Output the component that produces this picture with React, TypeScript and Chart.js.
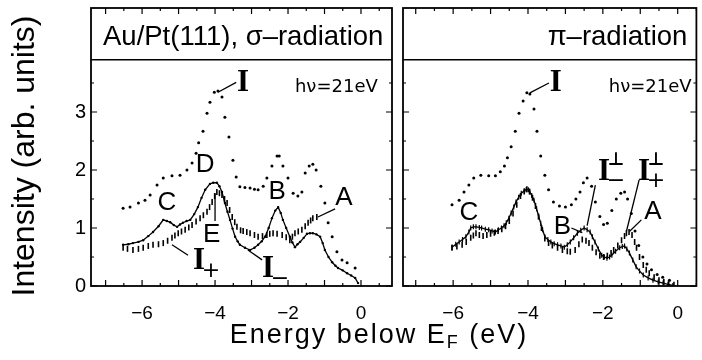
import React, { useEffect, useRef } from 'react';
import { Chart, registerables } from 'chart.js';

Chart.register(...registerables);

// ---------- axis ticks ----------
const xTickValues = [-6, -4, -2, 0];
const yTickValues = [0, 1, 2, 3];

// ---------- σ-radiation panel ----------
const sigmaTotalE = [-6.52, -6.33, -6.1, -5.92, -5.78, -5.59, -5.42, -5.18, -4.96, -4.77, -4.63, -4.52, -4.45, -4.33, -4.22, -4.14, -4.02, -3.92, -3.81, -3.73, -3.62, -3.51, -3.42, -3.32, -3.18, -3.04, -2.92, -2.82, -2.68, -2.58, -2.44, -2.3, -2.24, -2.14, -2.0, -1.86, -1.73, -1.62, -1.53, -1.42, -1.32, -1.23, -1.1, -0.99, -0.9, -0.79, -0.66, -0.52, -0.38, -0.16];
const sigmaTotal = [1.34, 1.36, 1.43, 1.48, 1.57, 1.74, 1.86, 1.9, 1.91, 2.0, 2.12, 2.29, 2.47, 2.67, 2.98, 3.17, 3.34, 3.36, 3.26, 2.91, 2.57, 2.17, 1.88, 1.71, 1.7, 1.69, 1.67, 1.66, 1.72, 1.86, 2.07, 2.24, 2.24, 2.07, 1.86, 1.6, 1.55, 1.62, 1.95, 2.07, 2.1, 2.0, 1.72, 1.43, 1.09, 0.85, 0.59, 0.45, 0.4, 0.31];

const sigmaMinusE = [-6.52, -6.38, -6.25, -6.1, -5.97, -5.83, -5.7, -5.55, -5.42, -5.32, -5.23, -5.13, -5.04, -4.96, -4.88, -4.78, -4.68, -4.57, -4.47, -4.37, -4.27, -4.14, -4.05, -3.95, -3.88, -3.81, -3.73, -3.66, -3.59, -3.52, -3.45, -3.38, -3.32, -3.18, -3.04, -2.92, -2.82, -2.72, -2.63, -2.53, -2.44, -2.35, -2.27, -2.2, -2.14, -2.05, -1.95, -1.88, -1.81, -1.74, -1.67, -1.57, -1.48, -1.4, -1.32, -1.22, -1.12, -1.05, -0.99, -0.89, -0.79, -0.7, -0.63, -0.5, -0.38, -0.27, -0.16, -0.08];
const sigmaMinus = [0.71, 0.72, 0.74, 0.76, 0.79, 0.86, 0.93, 1.03, 1.14, 1.12, 1.1, 1.05, 1.02, 1.06, 1.09, 1.12, 1.14, 1.24, 1.36, 1.52, 1.66, 1.76, 1.78, 1.78, 1.72, 1.62, 1.43, 1.28, 1.14, 0.99, 0.85, 0.77, 0.71, 0.66, 0.62, 0.66, 0.71, 0.77, 0.85, 1.0, 1.17, 1.3, 1.36, 1.26, 1.14, 1.0, 0.85, 0.75, 0.67, 0.72, 0.76, 0.83, 0.9, 0.91, 0.91, 0.89, 0.85, 0.74, 0.62, 0.5, 0.41, 0.35, 0.31, 0.27, 0.22, 0.18, 0.14, 0.05];

const sigmaPlusE = [-6.52, -6.4, -6.25, -6.1, -5.97, -5.83, -5.7, -5.55, -5.42, -5.3, -5.18, -5.1, -5.01, -4.92, -4.82, -4.72, -4.63, -4.52, -4.41, -4.32, -4.22, -4.15, -4.08, -4.01, -3.95, -3.88, -3.81, -3.74, -3.67, -3.6, -3.53, -3.46, -3.4, -3.3, -3.23, -3.13, -3.04, -2.92, -2.82, -2.7, -2.58, -2.5, -2.41, -2.3, -2.16, -2.05, -1.95, -1.88, -1.81, -1.72, -1.62, -1.53, -1.45, -1.38, -1.32, -1.21];
const sigmaPlus = [0.66, 0.64, 0.62, 0.64, 0.66, 0.69, 0.71, 0.72, 0.74, 0.78, 0.83, 0.87, 0.91, 0.94, 0.97, 1.01, 1.05, 1.11, 1.17, 1.22, 1.28, 1.36, 1.45, 1.55, 1.62, 1.6, 1.57, 1.5, 1.43, 1.31, 1.19, 1.1, 1.02, 0.96, 0.95, 0.93, 0.91, 0.88, 0.85, 0.86, 0.88, 0.9, 0.91, 0.9, 0.88, 0.84, 0.79, 0.85, 0.91, 0.94, 0.97, 1.03, 1.09, 1.13, 1.17, 1.19];

// ---------- π-radiation panel ----------
const piTotalE = [-6.03, -5.84, -5.71, -5.58, -5.45, -5.26, -5.05, -4.87, -4.74, -4.63, -4.55, -4.45, -4.34, -4.24, -4.13, -4.03, -3.95, -3.84, -3.76, -3.66, -3.55, -3.45, -3.32, -3.16, -3.0, -2.84, -2.72, -2.61, -2.52, -2.42, -2.3, -2.2, -2.08, -1.98, -1.88, -1.76, -1.64, -1.52, -1.42, -1.34, -1.24, -1.14, -1.04, -0.93, -0.82, -0.7, -0.55, -0.4, -0.22];
const piTotal = [1.4, 1.48, 1.62, 1.74, 1.86, 1.91, 1.9, 1.9, 1.97, 2.07, 2.21, 2.4, 2.67, 2.98, 3.19, 3.33, 3.31, 3.05, 2.67, 2.24, 1.91, 1.66, 1.45, 1.38, 1.36, 1.4, 1.5, 1.62, 1.78, 1.86, 1.72, 1.45, 1.2, 1.06, 1.08, 1.3, 1.5, 1.6, 1.62, 1.5, 1.25, 0.95, 0.7, 0.5, 0.38, 0.28, 0.2, 0.15, 0.1];

const piMinusE = [-6.03, -5.93, -5.84, -5.75, -5.66, -5.58, -5.53, -5.46, -5.39, -5.3, -5.24, -5.14, -5.05, -4.96, -4.87, -4.79, -4.71, -4.64, -4.58, -4.51, -4.45, -4.38, -4.32, -4.25, -4.18, -4.1, -4.05, -3.99, -3.95, -3.9, -3.84, -3.77, -3.71, -3.66, -3.61, -3.55, -3.47, -3.39, -3.3, -3.21, -3.12, -3.03, -2.95, -2.87, -2.78, -2.68, -2.59, -2.5, -2.42, -2.34, -2.28, -2.21, -2.12, -2.03, -1.96, -1.89, -1.82, -1.76, -1.66, -1.55, -1.48, -1.42, -1.36, -1.29, -1.2, -1.11, -1.02, -0.92, -0.79, -0.66, -0.52, -0.39, -0.26, -0.13];
const piMinus = [0.67, 0.72, 0.76, 0.8, 0.85, 0.93, 1.0, 1.02, 1.02, 1.01, 1.0, 0.98, 0.97, 0.95, 0.93, 0.97, 1.0, 1.04, 1.09, 1.17, 1.26, 1.36, 1.45, 1.53, 1.6, 1.64, 1.66, 1.66, 1.62, 1.56, 1.48, 1.33, 1.19, 1.08, 0.97, 0.85, 0.8, 0.76, 0.73, 0.71, 0.69, 0.67, 0.71, 0.76, 0.83, 0.91, 0.96, 1.0, 0.97, 0.93, 0.85, 0.76, 0.64, 0.53, 0.5, 0.48, 0.5, 0.53, 0.6, 0.66, 0.68, 0.69, 0.64, 0.57, 0.45, 0.33, 0.26, 0.19, 0.14, 0.1, 0.07, 0.05, 0.03, 0.01];

const piPlusE = [-6.03, -5.9, -5.76, -5.65, -5.53, -5.46, -5.39, -5.3, -5.2, -5.1, -5.0, -4.9, -4.8, -4.7, -4.6, -4.5, -4.4, -4.3, -4.2, -4.1, -4.03, -3.96, -3.88, -3.8, -3.72, -3.64, -3.55, -3.45, -3.35, -3.21, -3.08, -2.95, -2.87, -2.74, -2.64, -2.55, -2.45, -2.37, -2.28, -2.18, -2.08, -1.98, -1.88, -1.78, -1.71, -1.6, -1.5, -1.42, -1.37, -1.3, -1.22, -1.15, -1.1, -1.02, -0.92, -0.84, -0.76, -0.63, -0.5, -0.37, -0.24, -0.1];
const piPlus = [0.66, 0.68, 0.71, 0.76, 0.83, 0.87, 0.91, 0.88, 0.86, 0.88, 0.9, 0.92, 0.95, 0.98, 1.03, 1.12, 1.25, 1.4, 1.55, 1.63, 1.67, 1.63, 1.52, 1.38, 1.2, 1.0, 0.82, 0.74, 0.7, 0.66, 0.62, 0.6, 0.59, 0.62, 0.72, 0.8, 0.78, 0.74, 0.66, 0.58, 0.52, 0.5, 0.52, 0.57, 0.62, 0.7, 0.79, 0.86, 0.91, 0.93, 0.88, 0.76, 0.66, 0.5, 0.36, 0.28, 0.22, 0.15, 0.1, 0.07, 0.05, 0.02];

// ---------- panel texts ----------
const sigmaHeader = 'Au/Pt(111), σ–radiation';
const piHeader = 'π–radiation';
const photonText = 'hν=21eV';
const yTitle = 'Intensity (arb. units)';
const xTitleMain = 'Energy below E';
const xTitleSub = 'F';
const xTitleEnd = ' (eV)';

// annotation labels (placed in data coordinates)
const sigmaLabels = [
  { t: 'I', x: -3.23, y: 3.5, serif: true, line: [-3.92, 3.34, -3.42, 3.51] },
  { t: 'D', x: -4.27, y: 2.09 },
  { t: 'C', x: -5.32, y: 1.43 },
  { t: 'E', x: -4.09, y: 0.88, line: [-4.0, 1.6, -4.0, 1.12] },
  { t: 'I', x: -4.44, y: 0.43, serif: true, sub: '+', line: [-5.18, 0.71, -4.74, 0.53] },
  { t: 'I', x: -2.55, y: 0.29, serif: true, sub: '−', line: [-3.1, 0.62, -2.71, 0.45] },
  { t: 'B', x: -2.3, y: 1.62 },
  { t: 'A', x: -0.47, y: 1.52, line: [-1.18, 1.19, -0.71, 1.33] },
];
const piLabels = [
  { t: 'I', x: -3.26, y: 3.5, serif: true, line: [-3.95, 3.33, -3.44, 3.5] },
  { t: 'C', x: -5.58, y: 1.26 },
  { t: 'B', x: -3.08, y: 1.02, line: [-2.84, 1.0, -2.55, 0.92] },
  { t: 'I', x: -1.97, y: 1.97, serif: true, sup: '⊥', sub: '−', line: [-2.2, 1.74, -2.42, 1.04] },
  { t: 'I', x: -0.9, y: 1.97, serif: true, sup: '⊥', sub: '+', line: [-1.03, 1.83, -1.37, 0.94] },
  { t: 'A', x: -0.66, y: 1.28, line: [-0.97, 1.14, -1.29, 0.94] },
];

const Y_MAX = (286 - 8) / 58;
const HEADER_Y = 3.9;

const SANS = "'Liberation Sans', Arial, sans-serif";
const DJ = "'DejaVu Sans', sans-serif";
const SERIF = "'Liberation Serif', 'DejaVu Serif', serif";

function pts(xs: number[], ys: number[]) {
  return xs.map((x, i) => ({ x, y: ys[i] }));
}

const panelPlugin = {
  id: 'panelDecor',
  afterDatasetsDraw(chart: any, _args: any, opts: any) {
    const { ctx, chartArea: a, scales } = chart;
    const xs = scales.x;
    const ys = scales.y;
    ctx.save();
    ctx.fillStyle = '#000';
    ctx.strokeStyle = '#000';
    // frame
    ctx.lineWidth = 1.8;
    ctx.strokeRect(a.left, a.top, a.right - a.left, a.bottom - a.top);
    const hy = ys.getPixelForValue(HEADER_Y);
    ctx.lineWidth = 1.4;
    ctx.beginPath();
    ctx.moveTo(a.left, hy);
    ctx.lineTo(a.right, hy);
    ctx.stroke();
    // tick marks (inward)
    ctx.lineWidth = 1.2;
    ctx.beginPath();
    for (let k = 0; k <= 7; k++) {
      const v = k * 0.5;
      const py = ys.getPixelForValue(v);
      const len = k % 2 === 0 ? 6 : 3;
      ctx.moveTo(a.left, py); ctx.lineTo(a.left + len, py);
      ctx.moveTo(a.right, py); ctx.lineTo(a.right - len, py);
    }
    for (let k = Math.ceil(xs.min * 2); k <= Math.floor(xs.max * 2); k++) {
      const v = k / 2;
      const px = xs.getPixelForValue(v);
      const len = k % 2 === 0 ? 6 : 3;
      ctx.moveTo(px, a.bottom); ctx.lineTo(px, a.bottom - len);
      ctx.moveTo(px, a.top); ctx.lineTo(px, a.top + len);
    }
    ctx.stroke();

    // header text
    ctx.font = `27.5px ${SANS}`;
    ctx.textBaseline = 'alphabetic';
    if (opts.headerAlign === 'left') {
      ctx.textAlign = 'left';
      ctx.fillText(opts.header, a.left + 12, a.top + 37);
    } else {
      ctx.textAlign = 'right';
      ctx.fillText(opts.header, a.right - 9, a.top + 37);
    }

    // photon energy
    ctx.font = `18px ${DJ}`;
    ctx.textAlign = 'left';
    ctx.textBaseline = 'middle';
    ctx.fillText(photonText, xs.getPixelForValue(opts.photonX), ys.getPixelForValue(3.43));

    // labels
    for (const l of opts.labels) {
      const px = xs.getPixelForValue(l.x);
      const py = ys.getPixelForValue(l.y);
      if (l.line) {
        ctx.lineWidth = 1.3;
        ctx.beginPath();
        ctx.moveTo(xs.getPixelForValue(l.line[0]), ys.getPixelForValue(l.line[1]));
        ctx.lineTo(xs.getPixelForValue(l.line[2]), ys.getPixelForValue(l.line[3]));
        ctx.stroke();
      }
      ctx.textAlign = 'center';
      ctx.textBaseline = 'middle';
      if (l.serif) {
        ctx.font = `bold 31px ${SERIF}`;
        ctx.fillText(l.t, px, py);
        if (l.sup) {
          ctx.font = `bold 18px ${DJ}`;
          ctx.fillText(l.sup, px + 12, py - 11);
        }
        if (l.sub) {
          ctx.font = `22px ${DJ}`;
          ctx.fillText(l.sub, px + 12, py + 10);
        }
      } else {
        ctx.font = `26px ${SANS}`;
        ctx.fillText(l.t, px, py);
      }
    }

    // shared axis titles & y tick labels (left panel only)
    if (opts.yLabels) {
      ctx.font = `20px ${SANS}`;
      ctx.textAlign = 'right';
      ctx.textBaseline = 'middle';
      for (const v of yTickValues) {
        ctx.fillText(String(v), a.left - 5, ys.getPixelForValue(v));
      }
      // y title
      ctx.save();
      ctx.translate(34, 156);
      ctx.rotate(-Math.PI / 2);
      ctx.font = `32px ${SANS}`;
      ctx.textAlign = 'center';
      ctx.textBaseline = 'alphabetic';
      ctx.fillText(yTitle, 0, 0);
      ctx.restore();
      // x title with subscript
      const fMain = `27px ${SANS}`;
      const fSub = `18px ${SANS}`;
      (ctx as any).letterSpacing = '2px';
      ctx.font = fMain;
      const w1 = ctx.measureText(xTitleMain).width;
      const w3 = ctx.measureText(xTitleEnd).width;
      ctx.font = fSub;
      const w2 = ctx.measureText(xTitleSub).width;
      const total = w1 + w2 + w3;
      let sx = 379 - total / 2;
      const by = 343;
      ctx.textAlign = 'left';
      ctx.textBaseline = 'alphabetic';
      ctx.font = fMain;
      ctx.fillText(xTitleMain, sx, by);
      sx += w1;
      ctx.font = fSub;
      ctx.fillText(xTitleSub, sx, by + 5);
      sx += w2;
      ctx.font = fMain;
      ctx.fillText(xTitleEnd, sx, by);
      (ctx as any).letterSpacing = '0px';
    }
    ctx.restore();
  },
};

function fmtTick(v: number) {
  return v === 0 ? '0' : (v < 0 ? '\u2212' : '') + Math.abs(v);
}

function makeConfig(p: any) {
  return {
    type: 'line',
    data: {
      datasets: [
        {
          label: 'I',
          data: p.total,
          showLine: false,
          pointStyle: 'circle',
          pointRadius: 1.5,
          pointBorderWidth: 0,
          pointBackgroundColor: '#000',
          borderColor: '#000',
        },
        {
          label: p.minusLabel,
          data: p.minus,
          showLine: true,
          borderColor: '#000',
          borderWidth: 1.3,
          tension: 0,
          pointStyle: p.minusTicks ? 'line' : 'circle',
          pointRotation: p.minusTicks ? 90 : 0,
          pointRadius: p.minusTicks ? 2.5 : 1.2,
          pointBorderWidth: p.minusTicks ? 1.2 : 0,
          pointBorderColor: '#000',
          pointBackgroundColor: '#000',
        },
        {
          label: p.plusLabel,
          data: p.plus,
          showLine: false,
          pointStyle: 'line',
          pointRotation: 90,
          pointRadius: 3,
          pointBorderWidth: 1.6,
          pointBorderColor: '#000',
          pointBackgroundColor: '#000',
        },
      ],
    },
    options: {
      responsive: false,
      maintainAspectRatio: false,
      animation: false,
      devicePixelRatio: 1,
      layout: { padding: { left: 0, right: p.padRight, top: 8, bottom: 0 } },
      plugins: {
        legend: { display: false },
        tooltip: { enabled: false },
        panelDecor: {
          header: p.header,
          headerAlign: p.headerAlign,
          photonX: p.photonX,
          labels: p.labels,
          yLabels: p.yLabels,
        },
      },
      scales: {
        x: {
          type: 'linear',
          min: p.xMin,
          max: p.xMax,
          grid: { display: false },
          border: { display: false },
          afterBuildTicks: (s: any) => {
            s.ticks = xTickValues.map((v) => ({ value: v }));
          },
          afterFit: (s: any) => {
            s.height = 74;
          },
          ticks: {
            autoSkip: false,
            maxRotation: 0,
            minRotation: 0,
            padding: 8,
            color: '#000',
            font: { family: SANS, size: 19 },
            callback: (v: any) => fmtTick(Number(v)),
          },
        },
        y: {
          type: 'linear',
          min: 0,
          max: Y_MAX,
          grid: { display: false },
          border: { display: false },
          ticks: { display: false },
          afterFit: (s: any) => {
            s.width = p.yWidth;
          },
        },
      },
    },
    plugins: [panelPlugin],
  };
}

export default function App() {
  const leftRef = useRef<HTMLCanvasElement>(null);
  const rightRef = useRef<HTMLCanvasElement>(null);

  useEffect(() => {
    document.body.style.margin = '0';
    const left = new Chart(
      leftRef.current as HTMLCanvasElement,
      makeConfig({
        total: pts(sigmaTotalE, sigmaTotal),
        minus: pts(sigmaMinusE, sigmaMinus),
        plus: pts(sigmaPlusE, sigmaPlus),
        minusLabel: 'I−',
        plusLabel: 'I+',
        minusTicks: false,
        xMin: -7.4,
        xMax: 0.85,
        yWidth: 91,
        padRight: 310,
        header: sigmaHeader,
        headerAlign: 'left',
        photonX: -1.81,
        labels: sigmaLabels,
        yLabels: true,
      }) as any
    );
    const right = new Chart(
      rightRef.current as HTMLCanvasElement,
      makeConfig({
        total: pts(piTotalE, piTotal),
        minus: pts(piMinusE, piMinus),
        plus: pts(piPlusE, piPlus),
        minusLabel: 'I⊥−',
        plusLabel: 'I⊥+',
        minusTicks: true,
        xMin: -7.34,
        xMax: 0.5,
        yWidth: 11,
        padRight: 1,
        header: piHeader,
        headerAlign: 'right',
        photonX: -1.84,
        labels: piLabels,
        yLabels: false,
      }) as any
    );
    return () => {
      left.destroy();
      right.destroy();
    };
  }, []);

  return (
    <div style={{ position: 'relative', width: 702, height: 360, background: '#fff', overflow: 'hidden' }}>
      <canvas
        ref={leftRef}
        width={702}
        height={360}
        style={{ position: 'absolute', left: 0, top: 0, width: 702, height: 360 }}
      />
      <canvas
        ref={rightRef}
        width={310}
        height={360}
        style={{ position: 'absolute', left: 392, top: 0, width: 310, height: 360 }}
      />
    </div>
  );
}
